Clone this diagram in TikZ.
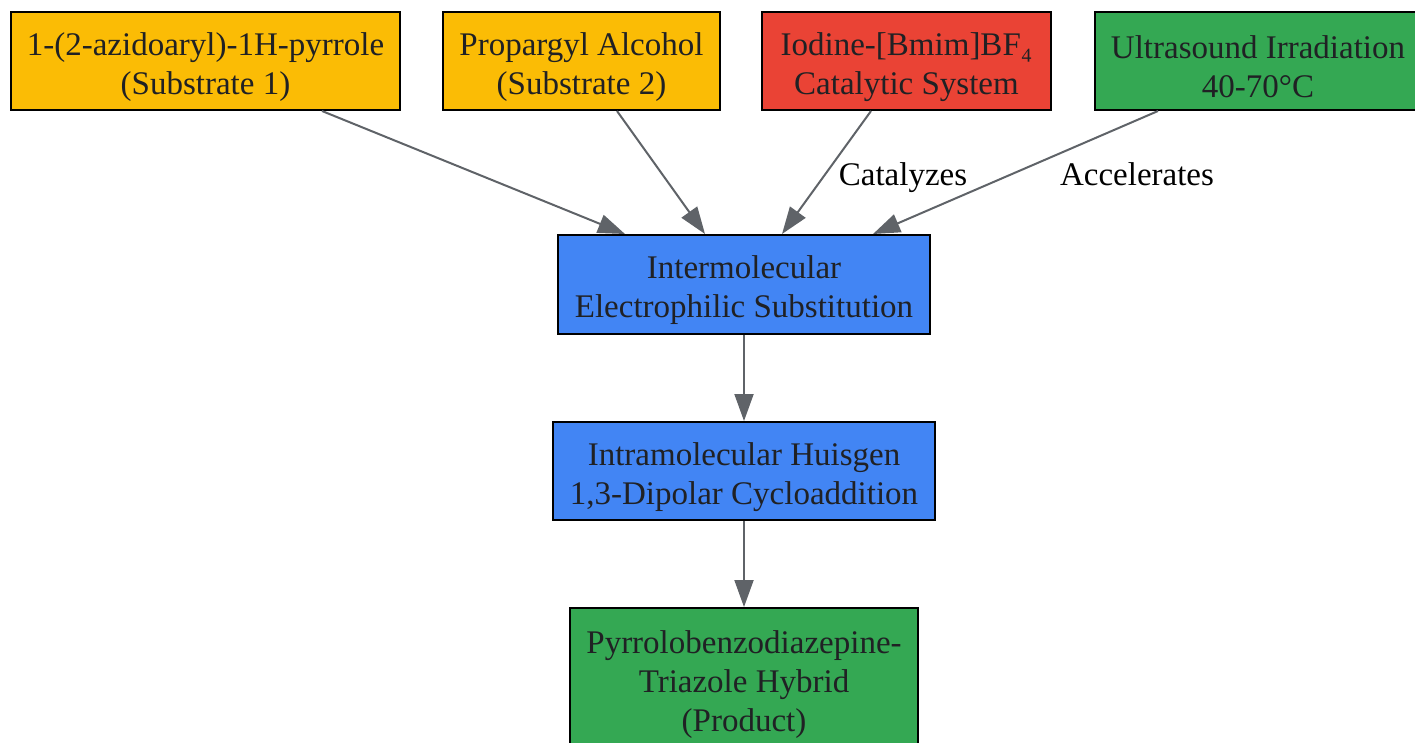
\documentclass[tikz,border=0pt]{standalone}
\usepackage{fontspec}
\setmainfont{Liberation Serif}
\usetikzlibrary{arrows.meta}
\definecolor{cyellow}{HTML}{FBBC05}
\definecolor{cred}{HTML}{EA4335}
\definecolor{cgreen}{HTML}{34A853}
\definecolor{cblue}{HTML}{4285F4}
\definecolor{cedge}{HTML}{5F6368}
\definecolor{ctext}{HTML}{202124}
\newcommand{\tstrut}{\rule{0pt}{35pt}}
\tikzset{
  box/.style={draw=black, line width=2pt, inner sep=0pt, align=center,
    text=ctext, font=\fontsize{33}{39}\selectfont, minimum height=98pt},
  edge/.style={draw=cedge, line width=2pt, -{Triangle[length=27pt,width=19pt]}},
  lab/.style={font=\fontsize{33}{39}\selectfont, text=black, inner sep=0pt, anchor=base}
}
\begin{document}
\begin{tikzpicture}[x=1pt,y=-1pt]
\useasboundingbox (0,0) rectangle (1415,742);
\node[box, fill=cyellow, minimum width=389pt] (s1) at (205.5,61) {\tstrut 1-(2-azidoaryl)-1H-pyrrole\\(Substrate 1)};
\node[box, fill=cyellow, minimum width=277pt] (s2) at (581.5,61) {\tstrut Propargyl Alcohol\\(Substrate 2)};
\node[box, fill=cred, minimum width=289pt] (s3) at (906.5,61) {\tstrut Iodine-[Bmim]BF₄\\Catalytic System};
\node[box, fill=cgreen, minimum width=326pt] (s4) at (1258,61) {\tstrut Ultrasound Irradiation\\40-70°C};
\node[box, fill=cblue, minimum width=372pt, minimum height=99pt] (m1) at (744,284.5) {\tstrut Intermolecular\\Electrophilic Substitution};
\node[box, fill=cblue, minimum width=382pt] (m2) at (744,471) {\tstrut Intramolecular Huisgen\\1,3-Dipolar Cycloaddition};
\node[box, fill=cgreen, minimum width=348pt, minimum height=140pt] (p) at (744,678) {\tstrut Pyrrolobenzodiazepine-\\Triazole Hybrid\\(Product)};
\draw[edge] ([xshift=116.5pt]s1.south) -- ([xshift=-119pt]m1.north);
\draw[edge] ([xshift=35.5pt]s2.south) -- ([xshift=-39pt]m1.north);
\draw[edge] ([xshift=-35.5pt]s3.south) -- ([xshift=38pt]m1.north);
\draw[edge] ([xshift=-100pt]s4.south) -- ([xshift=129pt]m1.north);
\node[lab] (l3) at (903,185) {Catalyzes};
\node[lab] (l4) at (1137,185) {Accelerates};
\draw[edge] (m1.south) -- (m2.north);
\draw[edge] (m2.south) -- (p.north);
\end{tikzpicture}
\end{document}
